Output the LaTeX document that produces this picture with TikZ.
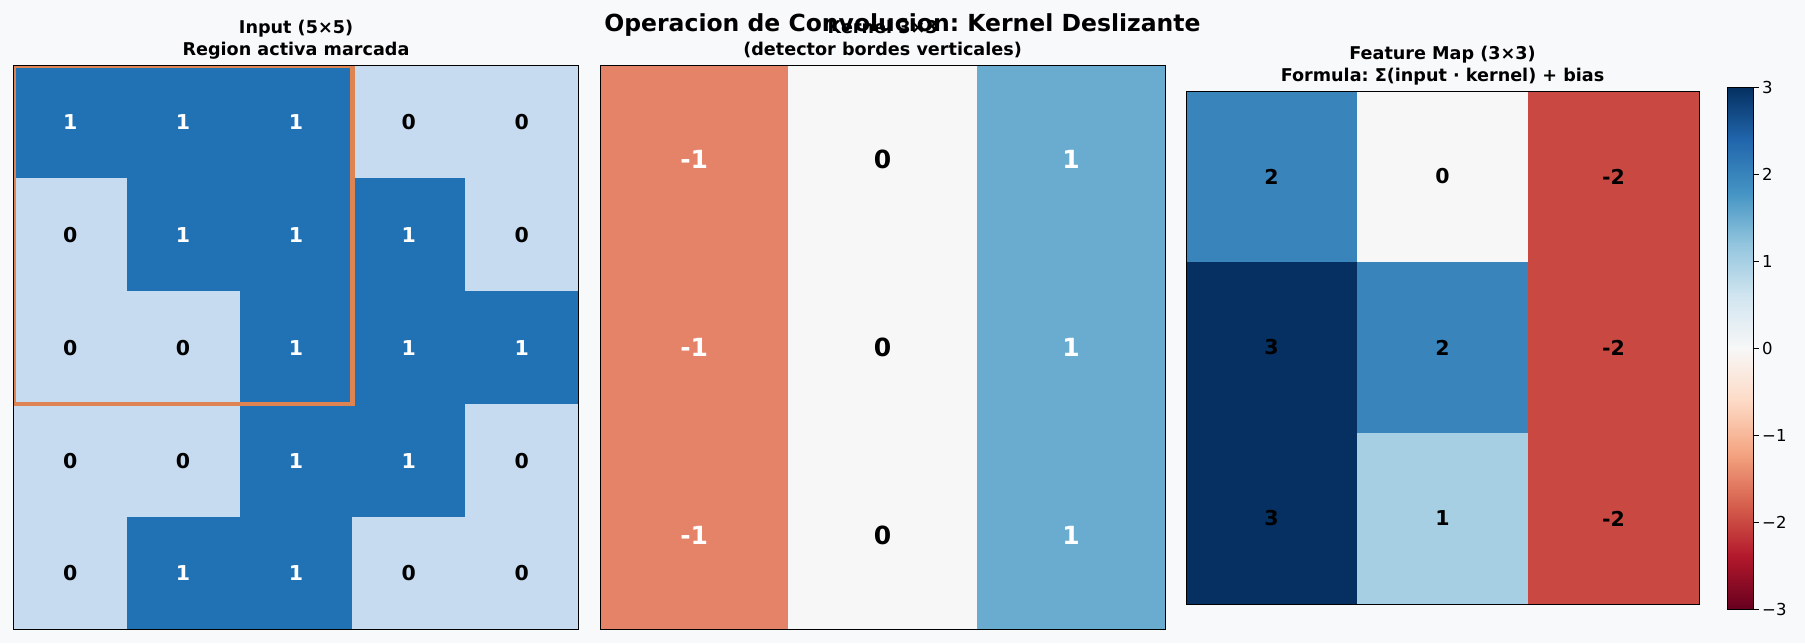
\documentclass[tikz,border=0pt]{standalone}
\usepackage{fontspec}
\setmainfont{DejaVu Sans}
\frenchspacing
\definecolor{bg}{RGB}{248,249,250}
\definecolor{in1}{RGB}{33,113,181}
\definecolor{in0}{RGB}{198,219,239}
\colorlet{intxt1}{white}
\colorlet{intxt0}{black}
\definecolor{kc0}{RGB}{229,131,104}
\definecolor{kc1}{RGB}{247,247,247}
\definecolor{kc2}{RGB}{106,172,208}
\colorlet{kt0}{white}
\colorlet{kt1}{black}
\colorlet{kt2}{white}
\definecolor{fp3}{RGB}{5,48,97}
\definecolor{fp2}{RGB}{56,132,187}
\definecolor{fp1}{RGB}{167,207,228}
\definecolor{fz}{RGB}{247,247,247}
\definecolor{fm2}{RGB}{202,72,66}
\definecolor{hl}{RGB}{221,132,82}
\definecolor{rb0}{HTML}{67001F}
\definecolor{rb1}{HTML}{B2182B}
\definecolor{rb2}{HTML}{D6604D}
\definecolor{rb3}{HTML}{F4A582}
\definecolor{rb4}{HTML}{FDDBC7}
\definecolor{rb5}{HTML}{F7F7F7}
\definecolor{rb6}{HTML}{D1E5F0}
\definecolor{rb7}{HTML}{92C5DE}
\definecolor{rb8}{HTML}{4393C3}
\definecolor{rb9}{HTML}{2166AC}
\definecolor{rb10}{HTML}{053061}
\pgfdeclareverticalshading{rdbu}{100bp}{color(0bp)=(rb0); color(25bp)=(rb0); color(30bp)=(rb1); color(35bp)=(rb2); color(40bp)=(rb3); color(45bp)=(rb4); color(50bp)=(rb5); color(55bp)=(rb6); color(60bp)=(rb7); color(65bp)=(rb8); color(70bp)=(rb9); color(75bp)=(rb10); color(100bp)=(rb10)}
\newcommand\fsz[1]{\fontsize{#1}{#1}\selectfont}
\tikzset{
  frame/.style={draw=black, line width=1pt},
  subt/.style={anchor=base, inner sep=0pt, font=\bfseries\fsz{17.6}},
  cellnum/.style={inner sep=0pt, font=\bfseries\fsz{20.5}},
  kernnum/.style={inner sep=0pt, font=\bfseries\fsz{25}},
  ticklab/.style={anchor=west, inner sep=0pt, font=\fsz{16.5}}
}
\begin{document}
\begin{tikzpicture}[x=1pt,y=-1pt]
\fill[bg] (0,0) rectangle (1805,643);
\useasboundingbox (0,0) rectangle (1805,643);
% ---------- Panel 1: input ----------
\def\ix{13.8}\def\iy{65.6}\def\iw{112.86}
\foreach \r/\row in {0/{1,1,1,0,0},1/{0,1,1,1,0},2/{0,0,1,1,1},3/{0,0,1,1,0},4/{0,1,1,0,0}}{
  \foreach \v [count=\c from 0] in \row {
    \fill[in\v] (\ix+\c*\iw,\iy+\r*\iw) rectangle (\ix+\c*\iw+\iw+0.3,\iy+\r*\iw+\iw+0.3);
    \node[cellnum, text=intxt\v] (in-\r-\c) at (\ix+\c*\iw+0.5*\iw,\iy+\r*\iw+0.5*\iw) {\v};
  }
}
\begin{scope}
\clip (13.8,65.6) rectangle (578.1,629.7);
\draw[hl, line width=4.4pt] (13.8,65.6) rectangle (352.4,404.2);
\end{scope}
\draw[frame] (13.8,65.6) rectangle (578.1,629.7);
\node[subt] (t1a) at (296,33.6) {Input (5×5)};
\node[subt] (t1b) at (296,55.5) {Region activa marcada};
% ---------- Panel 2: kernel ----------
\def\kx{600}\def\ky{65.6}\def\kw{188.4}\def\kh{188.03}
\foreach \c/\v in {0/-1,1/0,2/1}{
  \fill[kc\c] (\kx+\c*\kw,\ky) rectangle (\kx+\c*\kw+\kw+0.3,629.7);
  \foreach \r in {0,1,2}{
    \node[kernnum, text=kt\c] (k-\r-\c) at (\kx+\c*\kw+0.5*\kw,\ky+\r*\kh+0.5*\kh) {\v};
  }
}
\draw[frame] (600,65.6) rectangle (1165.2,629.7);
\node[subt] (t2a) at (882.6,33.6) {Kernel 3×3};
\node[subt] (t2b) at (882.6,55.5) {(detector bordes verticales)};
% ---------- Panel 3: feature map ----------
\def\fx{1186}\def\fy{91}\def\fw{171}
\foreach \r/\c/\v/\col in {0/0/2/fp2,0/1/0/fz,0/2/-2/fm2,1/0/3/fp3,1/1/2/fp2,1/2/-2/fm2,2/0/3/fp3,2/1/1/fp1,2/2/-2/fm2}{
  \fill[\col] (\fx+\c*\fw,\fy+\r*\fw) rectangle (\fx+\c*\fw+\fw+0.3,\fy+\r*\fw+\fw+0.3);
  \node[cellnum, text=black] (f-\r-\c) at (\fx+\c*\fw+0.5*\fw,\fy+\r*\fw+0.5*\fw) {\v};
}
\draw[frame] (1186,91) rectangle (1699,604);
\node[subt] (t3a) at (1442.5,59) {Feature Map (3×3)};
\node[subt] (t3b) at (1442.5,81) {Formula: Σ(input · kernel) + bias};
% ---------- Colorbar ----------
\shade[shading=rdbu] (1727.5,87.5) rectangle (1753.5,609);
\draw[frame] (1727.5,87.5) rectangle (1753.5,609);
\foreach \v/\lab in {3/3,2/2,1/1,0/0,-1/−1,-2/−2,-3/−3}{
  \draw[line width=1pt] (1753.5,{87.5+(3-\v)*86.917}) -- ++(5,0);
  \node[ticklab] (cb\v) at (1762,{87.5+(3-\v)*86.917}) {\lab};
}
% ---------- Main title ----------
\node[anchor=base, inner sep=0pt, font=\bfseries\fsz{23.5}] (title) at (902.5,31.5) {Operacion de Convolucion: Kernel Deslizante};
\end{tikzpicture}
\end{document}
